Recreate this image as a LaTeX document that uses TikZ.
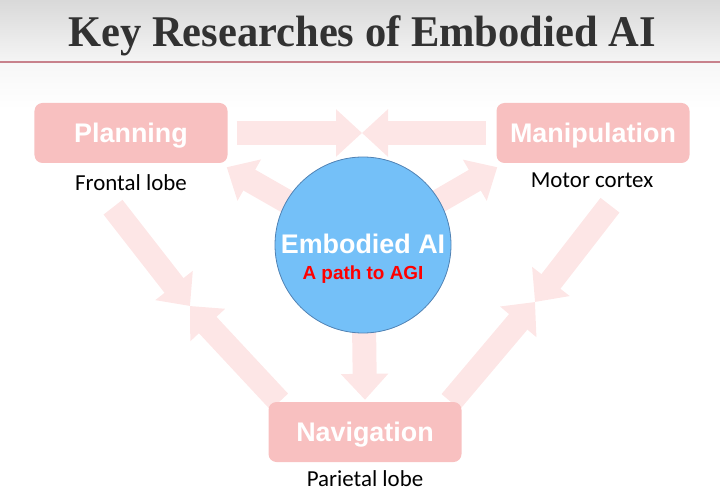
\documentclass[tikz,border=0pt]{standalone}
\usepackage{fontspec}
\setmainfont{Liberation Serif}
\newfontfamily\boxfont{Liberation Sans}
\newfontfamily\lobefont{Carlito}
\usetikzlibrary{arrows.meta,backgrounds}

\definecolor{boxpink}{RGB}{248,192,192}
\definecolor{arrowpink}{RGB}{253,230,230}
\definecolor{coreblue}{RGB}{116,192,248}
\definecolor{coreedge}{RGB}{80,130,180}
\definecolor{titlegray}{RGB}{50,50,50}
\definecolor{rulepink}{RGB}{200,130,140}

\begin{document}
\begin{tikzpicture}[x=1bp, y=-1bp,
    area/.style={rounded corners=8bp, fill=boxpink, minimum width=193bp, minimum height=60bp,
      text=white, text height=19bp, text depth=0bp, font=\boxfont\bfseries\fontsize{27}{30}\selectfont},
    lobe/.style={anchor=base, text=black, font=\lobefont\fontsize{23}{26}\selectfont},
    flow/.style={draw=arrowpink, line width=24bp, -{Triangle[width=46bp, length=26bp]}}]
  \useasboundingbox (0,0) rectangle (720,499);

  % title
  \node[anchor=base, text=titlegray, xscale=.97, font=\bfseries\fontsize{44}{50}\selectfont] (title) at (362,47) {Key Researches of Embodied AI};

  % the three areas
  \node[area] (plan) at (131,133) {Planning};
  \node[area] (manip) at (593,133) {Manipulation};
  \node[area] (nav) at (365,432) {Navigation};

  \node[lobe] (planlobe) at (131,191) {Frontal lobe};
  \node[lobe] (maniplobe) at (592,188) {Motor cortex};
  \node[lobe] (navlobe) at (365,486) {Parietal lobe};

  % centre
  \node[circle, fill=coreblue, draw=coreedge, line width=.8bp, minimum size=176bp] (core) at (363,245) {};
  \node[anchor=base, text=white, font=\boxfont\bfseries\fontsize{27}{30}\selectfont] (coretitle) at (363,254) {Embodied AI};
  \node[anchor=base, text=red, font=\boxfont\bfseries\fontsize{19}{22}\selectfont] (coresub) at (363,280) {A path to AGI};

  \coordinate (topmeet) at (362,133);
  \coordinate (leftmeet) at (190,306);
  \coordinate (rightmeet) at (535,302);

  \begin{scope}[on background layer]
    \shade[top color=gray!30, bottom color=gray!8] (0,0) rectangle (720,61);
    \shade[top color=gray!6, bottom color=white] (0,63) rectangle (720,110);
    \draw[rulepink, line width=1.5bp] (0,62) -- (720,62);

    \draw[flow] ([xshift=9bp]plan.east) -- (topmeet);
    \draw[flow] ([xshift=-10bp]manip.west) -- (topmeet);
    \draw[flow] (core.center) -- ([shift={(-1,4)}]plan.south east);
    \draw[flow] (core.center) -- ([shift={(1,4)}]manip.south west);
    \draw[flow, shorten >=2bp] (core.center) -- (nav.north);
    \draw[flow] ([shift={(-18,44)}]plan.south) -- (leftmeet);
    \draw[flow] ([xshift=11bp]nav.north west) -- (leftmeet);
    \draw[flow] ([shift={(17,42)}]manip.south) -- (rightmeet);
    \draw[flow] ([xshift=-11bp]nav.north east) -- (rightmeet);
  \end{scope}
\end{tikzpicture}
\end{document}
